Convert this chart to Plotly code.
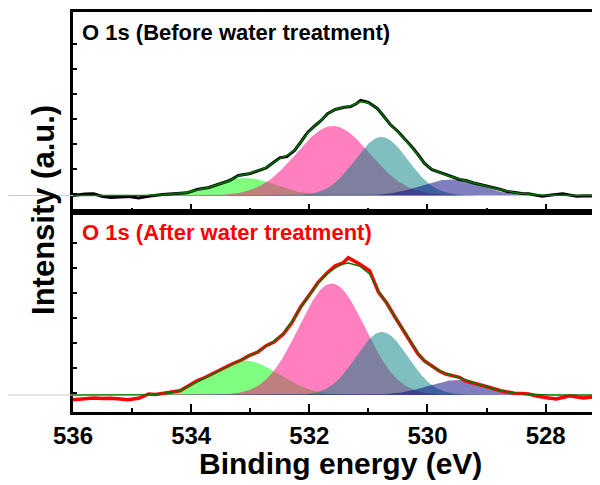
import numpy as np
import plotly.graph_objects as go
from plotly.subplots import make_subplots

# ---------------- data ----------------
# x tick labels
x_major = [536, 534, 532, 530, 528]
x_range = [536, 527.08]
y_ticks = [2, 27, 52, 77, 102, 127, 152]

# Top panel: measured spectrum (before water treatment)
e_top = [536.0, 535.8, 535.65, 535.5, 535.36, 535.2, 535.05, 534.89, 534.7, 534.48,
         534.3, 534.07, 533.9, 533.7, 533.55, 533.35, 533.2, 533.0, 532.73, 532.6,
         532.5, 532.38, 532.25, 532.15, 532.03, 531.9, 531.8, 531.69, 531.56, 531.41,
         531.3, 531.2, 531.13, 531.0, 530.85, 530.75, 530.63, 530.5, 530.39, 530.27,
         530.16, 530.05, 529.93, 529.8, 529.69, 529.55, 529.46, 529.35, 529.23, 529.1,
         528.99, 528.87, 528.76, 528.65, 528.53, 528.4, 528.29, 528.15, 528.06, 527.9,
         527.71, 527.6, 527.47, 527.3, 527.08]
i_top = [0, 1.5, 1.7, -1, -2, -1.5, -1, -2.5, -0.5, 1,
         1.5, 2.7, 6, 8, 11, 15, 20, 22, 27.7, 33,
         37.7, 39, 45, 53, 63, 70, 75, 81.7, 86, 88.3,
         89, 92, 95, 93, 87, 80, 71, 64, 57, 49,
         41, 32, 26, 23, 21, 18, 16, 15, 12.7, 11,
         9.3, 7.5, 6, 4, 2.7, 2, 1.7, 0.5, -0.7, 0.5,
         1.7, 0.5, -0.7, -0.2, -0.7]
fit_top = [0, 0, 0, 0, 0, 0, 0, 0, 0.3, 0.8,
           1.5, 3, 5.5, 8, 11, 15, 19.5, 22.5, 28, 33,
           37, 40, 45.5, 53, 62.5, 70, 75.5, 81.5, 86, 88.5,
           89.5, 92, 94, 92.5, 87, 80, 71, 63.5, 56.5, 48.5,
           40.5, 32, 26.5, 23, 20.5, 18, 16.5, 14.5, 12.5, 10.5,
           9, 7.3, 5.8, 4.2, 3, 2, 1.3, 0.7, 0.4, 0.2,
           0, 0, 0, 0, 0]

# Bottom panel: measured spectrum (after water treatment)
e_bot = [536.0, 535.85, 535.65, 535.5, 535.36, 535.2, 535.07, 534.89, 534.8, 534.72,
         534.6, 534.48, 534.35, 534.19, 534.05, 533.9, 533.75, 533.6, 533.45, 533.31,
         533.15, 533.02, 532.87, 532.73, 532.6, 532.44, 532.3, 532.15, 532.0, 531.85,
         531.7, 531.56, 531.43, 531.34, 531.15, 530.98, 530.83, 530.69, 530.55, 530.39,
         530.27, 530.16, 530.05, 529.93, 529.8, 529.69, 529.55, 529.46, 529.35, 529.23,
         529.1, 528.99, 528.87, 528.76, 528.65, 528.53, 528.4, 528.29, 528.15, 528.06,
         527.95, 527.82, 527.7, 527.59, 527.47, 527.36, 527.2, 527.08]
i_bot = [-4.7, -4, -3, -3.5, -3.3, -4, -4.7, -3.3, -1, 1,
         0.5, 1.7, 2.5, 4.3, 9, 14.3, 18, 22.7, 27, 31,
         35, 39.3, 43, 49.3, 53, 61, 72, 87.7, 100, 112.7,
         122, 129.3, 132, 137.3, 131, 124.3, 103, 92, 78, 63,
         52, 41, 34, 29.3, 24, 21, 19, 17.7, 14, 11.7,
         10, 8.3, 6, 4.3, 3, 1.7, 1.5, 1, -1, -2.3,
         -3, -4, -2, -0.7, -2, -3, -2, -1.7]
fit_bot = [0, 0, 0, 0, 0, 0, 0, 0, 0, 0.3,
           0.8, 1.5, 2.5, 4.5, 8.5, 13, 17.5, 22, 26.5, 30.5,
           35, 39, 43.5, 48.5, 54, 62, 73, 87, 100, 112,
           121, 127, 131, 132, 129, 121, 104, 92, 78, 64,
           53, 42, 34, 28.5, 24.5, 21.5, 19, 17.5, 15, 12.5,
           10, 8, 6, 4.5, 3, 2, 1.3, 0.8, 0.4, 0.2,
           0, 0, 0, 0, 0, 0, 0, 0]

# Fitted component peaks: centre (eV), height, sigma (eV)
peak_names = ["peak1", "peak2", "peak3", "peak4"]
peak_colors = ["rgba(0,255,0,0.5)", "rgba(255,0,128,0.5)",
               "rgba(0,128,128,0.5)", "rgba(0,0,128,0.5)"]
top_centers = [533.07, 531.6, 530.78, 529.62]
top_heights = [17.5, 69.5, 58.5, 16.0]
top_sigmas = [0.5, 0.62, 0.45, 0.5]
bot_centers = [533.1, 531.62, 530.77, 529.5]
bot_heights = [34.5, 111.5, 63.0, 15.0]
bot_sigmas = [0.58, 0.56, 0.44, 0.5]

title_top = "O 1s (Before water treatment)"
title_bot = "O 1s (After water treatment)"

# ---------------- figure ----------------
FONT = "Liberation Sans, Arial, sans-serif"
fig = make_subplots(rows=2, cols=1, shared_xaxes=True, vertical_spacing=0)

grid = np.linspace(536.2, 526.9, 600)


def add_panel(row, centers, heights, sigmas, e, i, fit, data_color, data_width):
    for c, h, s, col, nm in zip(centers, heights, sigmas, peak_colors, peak_names):
        yv = h * np.exp(-((grid - c) ** 2) / (2 * s * s))
        fig.add_trace(go.Scatter(x=grid, y=yv, mode="lines", name=nm,
                                 line=dict(width=0, color=col), fill="tozeroy",
                                 fillcolor=col, hoverinfo="skip"), row=row, col=1)
    fig.add_trace(go.Scatter(x=e, y=i, mode="lines", line=dict(color=data_color, width=data_width)),
                  row=row, col=1)
    fig.add_trace(go.Scatter(x=e, y=fit, mode="lines", line=dict(color="#007a00", width=1.4)),
                  row=row, col=1)


add_panel(1, top_centers, top_heights, top_sigmas, e_top, i_top, fit_top, "#000000", 3)
add_panel(2, bot_centers, bot_heights, bot_sigmas, e_bot, i_bot, fit_bot, "#ff0000", 3.5)

xcommon = dict(range=x_range, showgrid=False, zeroline=False, showline=True, linecolor="black",
               linewidth=3, mirror=True, ticks="inside", ticklen=8, tickwidth=2, tickcolor="black",
               tickmode="array", tickvals=x_major, ticktext=[str(v) for v in x_major],
               automargin=False,
               minor=dict(dtick=1, tick0=535, ticks="inside", ticklen=4, tickwidth=2, tickcolor="black"))
fig.update_xaxes(**xcommon)
fig.update_xaxes(showticklabels=False, row=1, col=1)
fig.update_xaxes(showticklabels=True, row=2, col=1,
                 tickfont=dict(family=FONT, size=24, color="black", weight="bold"),
                 ticklabelstandoff=0)

ycommon = dict(showgrid=False, zeroline=False, showline=True, linecolor="black", linewidth=3,
               mirror=False, ticks="inside", ticklen=4, tickwidth=1.5, tickcolor="black",
               tickmode="array", tickvals=y_ticks, showticklabels=False, automargin=False)
fig.update_yaxes(**ycommon)
fig.update_yaxes(range=[-16.5, 183.5], row=1, col=1)
fig.update_yaxes(range=[-17, 183], row=2, col=1)

# faint baseline stubs left of the axis
for yr in ["y", "y2"]:
    fig.add_shape(type="line", xref="paper", yref=yr, x0=-65 / 527, x1=0, y0=0, y1=0,
                  line=dict(color="#c4ccd4", width=1))

fig.add_annotation(text=title_top, xref="paper", yref="paper", x=0.013, y=0.985,
                   xanchor="left", yanchor="top", showarrow=False,
                   font=dict(family=FONT, size=22, color="black", weight="bold"))
fig.add_annotation(text=title_bot, xref="paper", yref="paper", x=0.013, y=0.485,
                   xanchor="left", yanchor="top", showarrow=False,
                   font=dict(family=FONT, size=22, color="#ff0000", weight="bold"))
fig.add_annotation(text="Intensity (a.u.)", xref="paper", yref="paper", x=-0.057, y=0.505,
                   xanchor="center", yanchor="middle", textangle=-90, showarrow=False,
                   font=dict(family=FONT, size=31, color="black", weight="bold"))
fig.add_annotation(text="Binding energy (eV)", xref="paper", yref="paper", x=0.508, y=-0.128,
                   xanchor="center", yanchor="middle", showarrow=False,
                   font=dict(family=FONT, size=30, color="black", weight="bold"))

# The page body adds an 8 px offset, so the figure is sized to land on the reference pixels.
fig.update_layout(width=592, height=477, margin=dict(l=65, r=0, t=4, b=73, autoexpand=False),
                  plot_bgcolor="white", paper_bgcolor="white", showlegend=False)

fig.write_html("out.html")
